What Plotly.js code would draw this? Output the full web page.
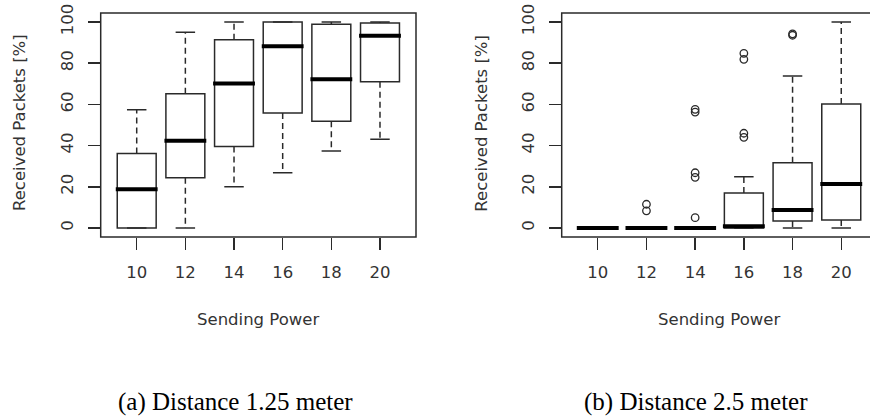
<!DOCTYPE html>
<html>
<head>
<meta charset="utf-8">
<script src="https://cdn.plot.ly/plotly-3.0.1.min.js"></script>
<style>html,body{margin:0;padding:0;background:#fff;}#chart{width:870px;height:418px;}</style>
</head>
<body>
<div id="chart"></div>
<script>
// ---- data ----
const categories = [10, 12, 14, 16, 18, 20];
const yTickVals = [0, 20, 40, 60, 80, 100];

// (a) Distance 1.25 meter
const aQ1     = [0, 24.4, 39.5, 55.8, 51.8, 71.0];
const aMedian = [18.8, 42.4, 70.2, 88.3, 72.2, 93.4];
const aQ3     = [36.1, 65.2, 91.4, 100, 98.9, 99.5];
const aLower  = [0, 0, 20, 26.8, 37.4, 43.1];
const aUpper  = [57.4, 95, 100, 100, 100, 100];

// (b) Distance 2.5 meter
const bQ1     = [0, 0, 0, 0, 3.4, 3.9];
const bMedian = [0, 0, 0, 0.8, 8.7, 21.4];
const bQ3     = [0, 0, 0, 17, 31.7, 60.2];
const bLower  = [0, 0, 0, 0, 0, 0];
const bUpper  = [0, 0, 0, 24.9, 73.8, 100];
const bOutlierCat = [12, 12, 14, 14, 14, 14, 14, 16, 16, 16, 16, 18, 18];
const bOutlierVal = [11.5, 8.3, 57.6, 56.3, 26.8, 24.6, 5, 46, 44, 84.8, 81.9, 94.3, 93.6];

const titles = {x: 'Sending Power', y: 'Received Packets [%]'};
const captions = ['(a) Distance 1.25 meter', '(b) Distance 2.5 meter'];

// ---- helpers ----
const pos = c => categories.indexOf(c) + 1;
const positions = categories.map(pos);
const BOXW = 0.8, STAPLE = 0.2, HALF = BOXW / 2;
const LINE = '#2a2a2a';
const LW = 1.5;
const FONT = {family: 'DejaVu Sans', size: 16.5, color: '#333'};
const CAPFONT = {family: 'Liberation Serif', size: 25, color: '#000'};

function panelTraces(q1, med, q3, lo, up, xa, ya) {
  const traces = [];
  traces.push({
    type: 'box', xaxis: xa, yaxis: ya, x: positions,
    q1: q1, median: med, q3: q3, lowerfence: q1, upperfence: q3,
    width: BOXW, whiskerwidth: 0, boxpoints: false,
    fillcolor: 'rgba(255,255,255,0)', line: {color: LINE, width: LW},
    showlegend: false, hoverinfo: 'skip'
  });
  const wx = [], wy = [];
  positions.forEach((p, i) => {
    if (up[i] > q3[i]) { wx.push(p, p, null); wy.push(q3[i], up[i], null); }
    if (lo[i] < q1[i]) { wx.push(p, p, null); wy.push(q1[i], lo[i], null); }
  });
  traces.push({type: 'scatter', mode: 'lines', xaxis: xa, yaxis: ya, x: wx, y: wy,
    line: {color: LINE, width: LW, dash: '6px,4px'}, showlegend: false, hoverinfo: 'skip'});
  const sx = [], sy = [];
  positions.forEach((p, i) => {
    sx.push(p - STAPLE, p + STAPLE, null, p - STAPLE, p + STAPLE, null);
    sy.push(up[i], up[i], null, lo[i], lo[i], null);
  });
  traces.push({type: 'scatter', mode: 'lines', xaxis: xa, yaxis: ya, x: sx, y: sy,
    line: {color: LINE, width: LW}, showlegend: false, hoverinfo: 'skip'});
  const mx = [], my = [];
  positions.forEach((p, i) => { mx.push(p - HALF - 0.03, p + HALF + 0.03, null); my.push(med[i], med[i], null); });
  traces.push({type: 'scatter', mode: 'lines', xaxis: xa, yaxis: ya, x: mx, y: my,
    line: {color: '#000', width: 4}, showlegend: false, hoverinfo: 'skip'});
  return traces;
}

const data = [
  ...panelTraces(aQ1, aMedian, aQ3, aLower, aUpper, 'x', 'y'),
  ...panelTraces(bQ1, bMedian, bQ3, bLower, bUpper, 'x2', 'y2'),
  {type: 'scatter', mode: 'markers', xaxis: 'x2', yaxis: 'y2',
   x: bOutlierCat.map(pos), y: bOutlierVal,
   marker: {symbol: 'circle-open', size: 7.5, color: LINE, line: {width: 1.3, color: LINE}},
   showlegend: false, hoverinfo: 'skip'}
];

const W = 870, H = 418;
const yDom = [1 - 237 / H, 1 - 13 / H];
const xAxisBase = {
  tickmode: 'array', tickvals: positions, ticktext: categories.map(String),
  ticks: 'outside', ticklen: 12, tickwidth: LW, tickcolor: LINE,
  showgrid: false, zeroline: false, showline: false,
  tickfont: FONT, ticklabelstandoff: 8, fixedrange: true
};
const yAxisBase = {
  tickmode: 'array', tickvals: yTickVals, ticktext: yTickVals.map(String),
  range: [-4.4, 104.4], domain: yDom,
  ticks: 'outside', ticklen: 12, tickwidth: LW, tickcolor: LINE, tickangle: -90,
  showgrid: false, zeroline: false, showline: false,
  tickfont: FONT, ticklabelstandoff: 8, fixedrange: true
};

const layout = {
  width: W, height: H, margin: {l: 0, r: 0, t: 0, b: 0},
  paper_bgcolor: '#fff', plot_bgcolor: '#fff', showlegend: false,
  xaxis: Object.assign({}, xAxisBase, {domain: [100.7 / W, 416 / W], range: [0.26, 6.74], anchor: 'y'}),
  yaxis: Object.assign({}, yAxisBase, {anchor: 'x'}),
  xaxis2: Object.assign({}, xAxisBase, {domain: [561.7 / W, 1], range: [0.26, 6.59], anchor: 'y2'}),
  yaxis2: Object.assign({}, yAxisBase, {anchor: 'x2'}),
  shapes: [
    {type: 'rect', xref: 'x domain', yref: 'y domain', x0: 0, x1: 1, y0: 0, y1: 1, line: {color: LINE, width: LW}},
    {type: 'rect', xref: 'x2 domain', yref: 'y2 domain', x0: 0, x1: 1.03, y0: 0, y1: 1, line: {color: LINE, width: LW}}
  ],
  annotations: [
    {text: titles.y, xref: 'paper', yref: 'paper', x: 20 / W, y: 1 - 123 / H, textangle: -90, showarrow: false, font: FONT, xanchor: 'center', yanchor: 'middle'},
    {text: titles.y, xref: 'paper', yref: 'paper', x: 481.7 / W, y: 1 - 123 / H, textangle: -90, showarrow: false, font: FONT, xanchor: 'center', yanchor: 'middle'},
    {text: titles.x, xref: 'paper', yref: 'paper', x: 258 / W, y: 1 - 319 / H, showarrow: false, font: FONT, xanchor: 'center', yanchor: 'middle'},
    {text: titles.x, xref: 'paper', yref: 'paper', x: 719 / W, y: 1 - 319 / H, showarrow: false, font: FONT, xanchor: 'center', yanchor: 'middle'},
    {text: captions[0], xref: 'paper', yref: 'paper', x: 235 / W, y: 1 - 402 / H, showarrow: false, font: CAPFONT, xanchor: 'center', yanchor: 'middle'},
    {text: captions[1], xref: 'paper', yref: 'paper', x: 695.5 / W, y: 1 - 402 / H, showarrow: false, font: CAPFONT, xanchor: 'center', yanchor: 'middle'}
  ]
};

Plotly.newPlot('chart', data, layout, {displayModeBar: false, staticPlot: true});
</script>
</body>
</html>
